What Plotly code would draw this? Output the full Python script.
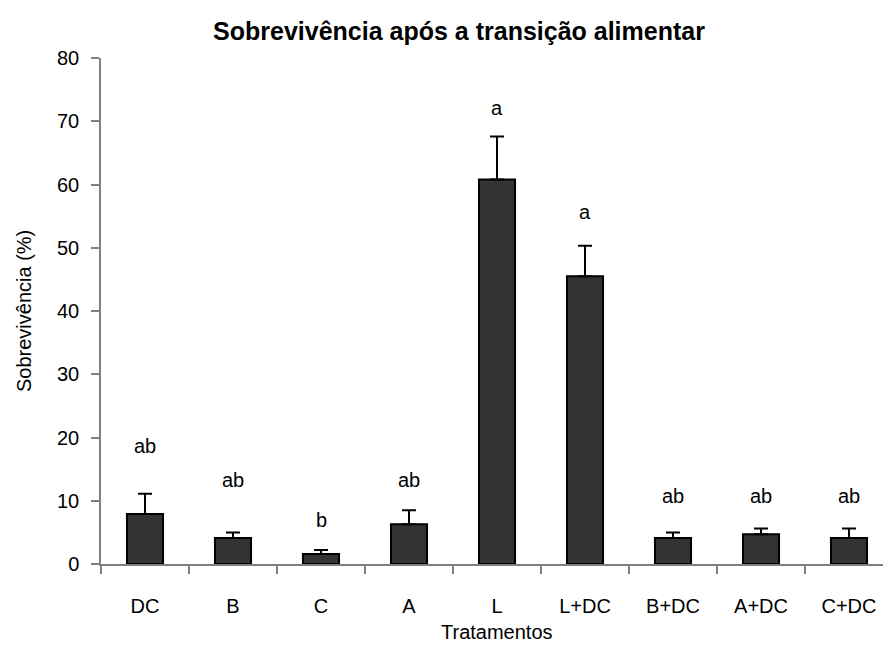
import plotly.graph_objects as go

# Treatments and survival values
tratamentos = ["DC", "B", "C", "A", "L", "L+DC", "B+DC", "A+DC", "C+DC"]
sobrevivencia = [7.9, 4.1, 1.6, 6.3, 60.8, 45.5, 4.1, 4.7, 4.1]
erro = [3.2, 0.9, 0.6, 2.2, 6.8, 4.8, 0.9, 0.9, 1.5]
letras = ["ab", "ab", "b", "ab", "a", "a", "ab", "ab", "ab"]
letras_y = [18.6, 13.3, 7.0, 13.3, 72.1, 55.7, 10.8, 10.8, 10.8]

FONT = "Liberation Sans, Arial, sans-serif"
AXIS_GREY = "#808080"

# page body has an 8px margin, so margins are shifted by that amount
fig = go.Figure()
fig.add_trace(go.Bar(
    x=tratamentos,
    y=sobrevivencia,
    width=0.41,
    marker=dict(color="#333333", line=dict(color="black", width=2)),
    error_y=dict(type="data", array=erro, symmetric=False, arrayminus=[0] * len(erro),
                 color="black", thickness=2, width=7),
    showlegend=False,
))

# Significance letters
for cat, txt, yy in zip(tratamentos, letras, letras_y):
    fig.add_annotation(x=cat, y=yy, text=txt, showarrow=False,
                       xanchor="center", yanchor="middle",
                       font=dict(family=FONT, size=20, color="black"))

# axis titles as annotations for exact placement
fig.add_annotation(text="Tratamentos", xref="paper", yref="paper", x=0.5, y=0,
                   yshift=-68, xanchor="center", yanchor="middle", showarrow=False,
                   font=dict(family=FONT, size=20, color="black"))
fig.add_annotation(text="Sobrevivência (%)", xref="paper", yref="paper", x=0, y=0.5,
                   xshift=-77, textangle=-90, xanchor="center", yanchor="middle",
                   showarrow=False, font=dict(family=FONT, size=20, color="black"))

fig.update_layout(
    width=891, height=646,
    paper_bgcolor="white", plot_bgcolor="white",
    margin=dict(l=93, r=6, t=50, b=90),
    title=dict(text="<b>Sobrevivência após a transição alimentar</b>",
               x=451 / 891, xanchor="center", xref="container",
               y=1 - 23 / 646, yanchor="middle",
               font=dict(family=FONT, size=25, color="black")),
    font=dict(family=FONT, size=20, color="black"),
)
fig.update_xaxes(
    type="category", tickson="boundaries", automargin=False,
    showline=True, linecolor=AXIS_GREY, linewidth=1.5,
    ticks="outside", ticklen=8, tickcolor=AXIS_GREY, tickwidth=1.5,
    ticklabelstandoff=23,
    tickfont=dict(family=FONT, size=20, color="black"),
    showgrid=False, zeroline=False,
)
fig.update_yaxes(
    range=[0, 80], dtick=10, tick0=0, automargin=False,
    showline=True, linecolor=AXIS_GREY, linewidth=1.5,
    ticks="outside", ticklen=8, tickcolor=AXIS_GREY, tickwidth=1.5,
    ticklabelstandoff=8,
    tickfont=dict(family=FONT, size=20, color="black"),
    showgrid=False, zeroline=False,
)

fig.write_html("out.html")
